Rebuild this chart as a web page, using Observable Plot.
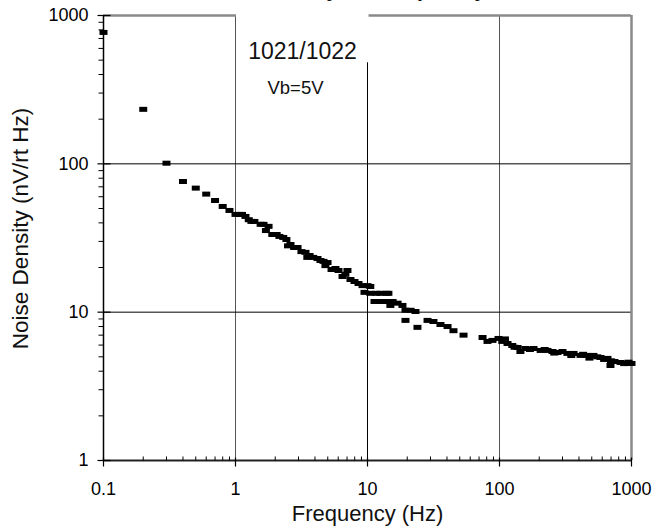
<!DOCTYPE html>
<html>
<head>
<meta charset="utf-8">
<script src="https://cdn.jsdelivr.net/npm/d3@7"></script>
<script src="https://cdn.jsdelivr.net/npm/@observablehq/plot@0.6"></script>
<style>
  html, body { margin: 0; padding: 0; background: #fff; }
</style>
</head>
<body>
<div id="chart"></div>
<script>
// ---- data ----
const freq = [0.1,0.2,0.3,0.4,0.5,0.6,0.7,0.8,0.9,1.0,
  1.12,1.19,1.32,1.39,1.55,1.63,1.78,1.9,2.05,2.15,
  2.3,2.43,2.61,2.78,2.95,3.16,3.39,3.64,3.88,4.18,
  4.4,4.64,4.98,5.34,5.72,6.03,6.47,7.05,7.43,7.97,
  8.55,9.17,10.0,10.5,9.49,10.5,11.7,12.5,13.9,14.4,
  11.3,12.5,13.9,15.5,16.9,14.9,18.4,19.4,21.2,23.1,
  19.4,23.9,28.5,31.6,35.7,40.4,44.8,53.4,74.4,81.1,
  88.5,98.3,105,115,125,137,144,157,181,205,
  231,252,275,300,327,364,411,456,515,582,
  658,693,743,826,917,1000,
  110,130,170,220,260,350,430,480,550,620,700,880,950,
  1.07,1.26,1.7,2.5,3.5,4.8,6.8];
const noise = [769,233,101,76,68.6,62.5,56.6,51.6,48.5,45.6,
  45.6,44.2,40.9,40.9,39.1,39.1,37.9,33.4,33.4,32.4,
  31.9,30.9,28.6,27.3,27.3,25.6,25.3,24.1,23.4,23.0,
  22.3,22.0,21.6,19.4,19.7,19.1,17.4,19.1,16.6,16.1,
  15.6,15.1,15.1,14.9,13.6,13.4,13.4,13.4,13.4,13.4,
  11.8,11.8,11.8,11.8,11.5,11.1,11.1,10.3,10.3,10.1,
  8.8,7.9,8.8,8.65,8.26,8.0,7.5,7.0,6.75,6.35,
  6.45,6.65,6.35,6.15,5.96,5.78,5.43,5.69,5.69,5.52,
  5.52,5.43,5.35,5.43,5.27,5.27,5.11,5.11,5.11,4.95,
  4.88,4.37,4.65,4.58,4.51,4.51,
  6.6,5.8,5.6,5.6,5.3,5.1,5.2,4.9,5.0,4.8,4.7,4.5,4.6,
  45.6,42.0,35.5,28.0,23.4,20.6,18.0];

const xTicks = [0.1, 1, 10, 100, 1000];
const yTicks = [1, 10, 100, 1000];
const xMinor = [0.2,0.3,0.4,0.5,0.6,0.7,0.8,0.9, 2,3,4,5,6,7,8,9, 20,30,40,50,60,70,80,90, 200,300,400,500,600,700,800,900];
const yMinor = [2,3,4,5,6,7,8,9, 20,30,40,50,60,70,80,90, 200,300,400,500,600,700,800,900];
const xGrid = [1, 10, 100];
const yGrid = [10, 100];
const titleText = "Noise Density vs Frequency";
const boxLabels = ["1021/1022", "Vb=5V"];
const xLabel = "Frequency (Hz)";
const yLabel = "Noise Density (nV/rt Hz)";
// text box region (data units) that hides the grid/frame behind the labels
const boxes = [{x1: 1, x2: 10, y1: 480, y2: 1000}];

const points = freq.map((f, i) => ({f, n: noise[i]}));

// ---- custom symbols ----
const marker = {draw(c) { c.rect(-4, -2.5, 8, 5); }};
const tickUp = {draw(c) { c.moveTo(0, 0); c.lineTo(0, -4); }};
const tickCrossV = {draw(c) { c.moveTo(0, -3); c.lineTo(0, 6); }};
const tickLeft = {draw(c) { c.moveTo(0, 0); c.lineTo(-5, 0); }};
const tickCrossH = {draw(c) { c.moveTo(-6, 0); c.lineTo(7, 0); }};

const font = "'Liberation Sans', Arial, sans-serif";

const chart = Plot.plot({
  width: 652,
  height: 527,
  marginLeft: 103,
  marginRight: 21,
  marginTop: 15,
  marginBottom: 67,
  style: {fontFamily: font, fontSize: "18px", color: "#000", background: "#fff"},
  x: {type: "log", domain: [0.1, 1000], ticks: xTicks, tickFormat: d => String(d), tickSize: 0, tickPadding: 22, label: null},
  y: {type: "log", domain: [1, 1000], ticks: yTicks, tickFormat: d => String(d), tickSize: 0, tickPadding: 15, label: null},
  marks: [
    // grid
    Plot.ruleX(xGrid, {stroke: d => d === 10 ? "#000" : "#555", strokeWidth: 1}),
    Plot.ruleY(yGrid, {stroke: "#000", strokeWidth: 1}),
    // frame (top/right gray, left/bottom black)
    Plot.ruleY([1000], {stroke: "#8a8a8a", strokeWidth: 2.5}),
    Plot.ruleX([1000], {stroke: "#8a8a8a", strokeWidth: 2.5}),
    Plot.ruleX([0.1], {stroke: "#000", strokeWidth: 1.5}),
    Plot.ruleY([1], {stroke: "#222", strokeWidth: 2}),
    // white label box
    Plot.rect(boxes, {x1: "x1", x2: "x2", y1: "y1", y2: "y2", fill: "#fff", insetLeft: 1, insetRight: -1.5, insetTop: -3}),
    // tick marks
    Plot.dot(xMinor, {x: d => d, y: 1, symbol: tickUp, stroke: "#000", fill: "none", strokeWidth: 1}),
    Plot.dot(xTicks, {x: d => d, y: 1, symbol: tickCrossV, stroke: "#000", fill: "none", strokeWidth: 1.2}),
    Plot.dot(yMinor, {x: 0.1, y: d => d, symbol: tickLeft, stroke: "#000", fill: "none", strokeWidth: 1}),
    Plot.dot(yTicks, {x: 0.1, y: d => d, symbol: tickCrossH, stroke: "#000", fill: "none", strokeWidth: 1.2}),
    // data
    Plot.dot(points, {x: "f", y: "n", symbol: marker, fill: "#000", stroke: "none"}),
    // labels
    Plot.text([boxLabels[0]], {frameAnchor: "top-left", textAnchor: "middle", dx: 199, dy: 27, fontSize: 23, fill: "#111"}),
    Plot.text([boxLabels[1]], {frameAnchor: "top-left", textAnchor: "middle", dx: 192, dy: 65, fontSize: 18.5, fill: "#111"}),
    Plot.text([xLabel], {frameAnchor: "bottom", textAnchor: "middle", dy: 60, fontSize: 22, fill: "#111"}),
    Plot.text([yLabel], {frameAnchor: "left", textAnchor: "middle", rotate: -90, dx: -83, dy: -9.5, fontSize: 22.5, fill: "#111"}),
    Plot.text([titleText], {frameAnchor: "top-left", textAnchor: "end", dx: 383, dy: -20, lineAnchor: "bottom", fontSize: 22, fontWeight: "bold", fill: "#111"})
  ]
});
document.getElementById("chart").appendChild(chart);
</script>
</body>
</html>
